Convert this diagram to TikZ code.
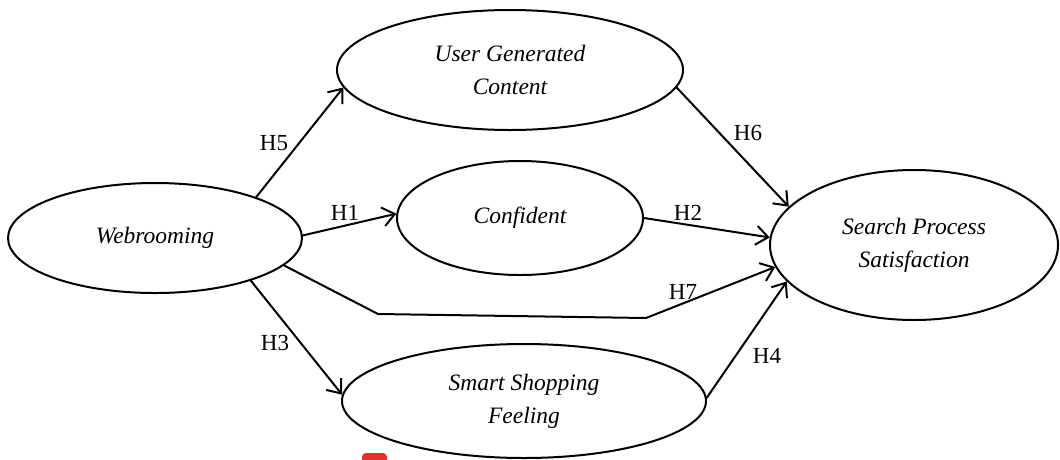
\documentclass[tikz,border=0pt]{standalone}
\usepackage{fontspec}
\setmainfont{Liberation Serif}
\usetikzlibrary{shapes.geometric,arrows.meta}
\definecolor{badge}{RGB}{229,48,48}
\begin{document}
\begin{tikzpicture}[x=1pt, y=-1pt, line join=round, line cap=round, line width=2pt, >={Straight Barb[length=12pt,width=19pt]},
 var/.style={draw, ellipse, inner sep=0pt, align=center, font=\fontsize{23.5}{33}\selectfont\itshape},
 hyp/.style={font=\fontsize{23}{26}\selectfont}]
 \useasboundingbox (0,0) rectangle (1060,459);
 % constructs
 \node[var, minimum width=294pt, minimum height=110pt] (web) at (155,238) {Webrooming};
 \node[var, minimum width=346pt, minimum height=120pt] (ugc) at (510,70) {User Generated\\Content};
 \node[var, minimum width=246pt, minimum height=114pt] (conf) at (520,218) {Confident};
 \node[var, minimum width=288pt, minimum height=150pt] (sps) at (914,245) {Search Process\\Satisfaction};
 \node[var, minimum width=364pt, minimum height=114pt] (ssf) at (524,401) {Smart Shopping\\Feeling};
 % paths
 \draw[->] (web.22) -- (ugc.186);
 \draw[->] (web.1) -- (conf.178);
 \draw[->] (conf.0) -- (sps.177);
 \draw[->] (ugc.-6) -- (sps.163);
 \draw[->] (web.-24) -- (ssf.178);
 \draw[->] (ssf.1) -- (sps.196);
 \coordinate (k1) at (378,314);
 \coordinate (k2) at (646,318);
 \draw[->] (web.-12) -- (k1) -- (k2) -- (sps.189);
 % hypotheses
 \node[hyp] (h5) at (274,143) {H5};
 \node[hyp] (h1) at (345,213) {H1};
 \node[hyp] (h2) at (688,213) {H2};
 \node[hyp] (h6) at (748,133) {H6};
 \node[hyp] (h7) at (683,292) {H7};
 \node[hyp] (h3) at (275,343) {H3};
 \node[hyp] (h4) at (767,356) {H4};
 \fill[badge, rounded corners=4pt, line width=0pt] (362,453) rectangle (387,466);
\end{tikzpicture}
\end{document}
